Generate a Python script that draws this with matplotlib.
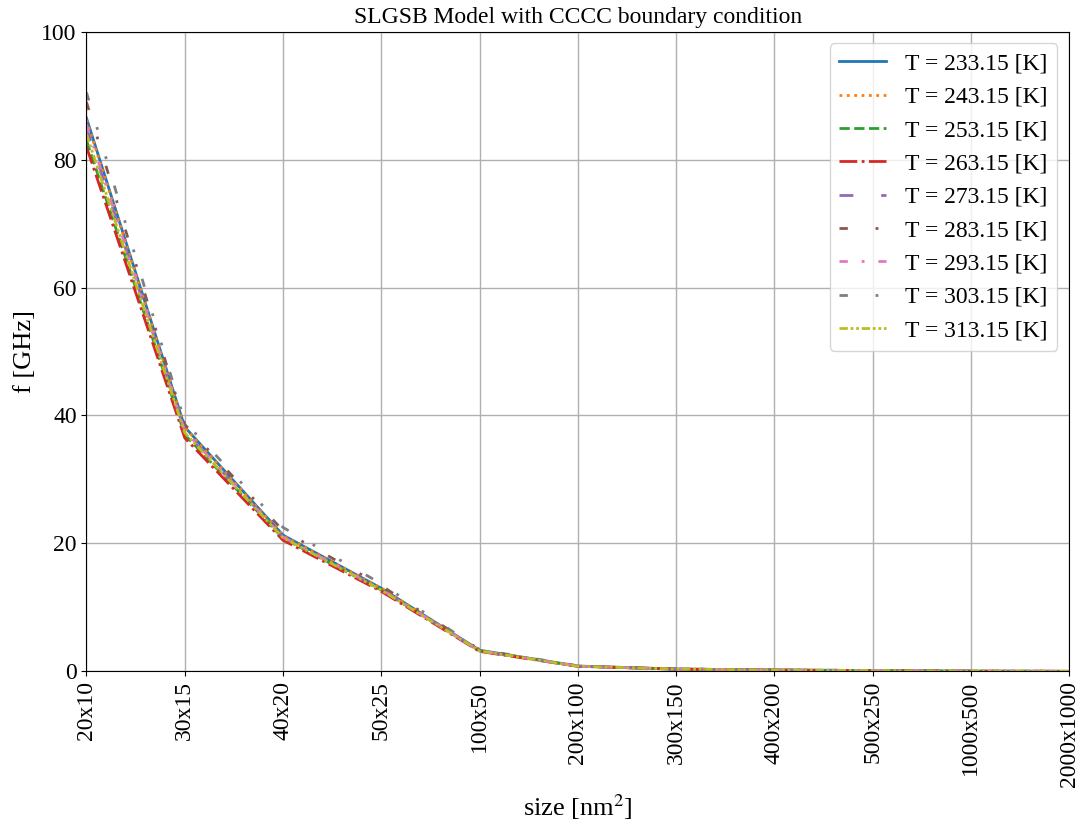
import matplotlib
matplotlib.use("Agg")
import matplotlib.pyplot as plt

sizes = ["20x10", "30x15", "40x20", "50x25", "100x50", "200x100",
         "300x150", "400x200", "500x250", "1000x500", "2000x1000"]

temps = [233.15, 243.15, 253.15, 263.15, 273.15, 283.15, 293.15, 303.15, 313.15]

f_233 = [86.5, 38.2, 21.3, 13.0, 3.30, 0.83, 0.37, 0.21, 0.13, 0.033, 0.008]
f_243 = [86.2, 38.1, 21.2, 13.0, 3.28, 0.82, 0.37, 0.21, 0.13, 0.033, 0.008]
f_253 = [83.0, 37.0, 20.8, 12.7, 3.20, 0.80, 0.36, 0.20, 0.13, 0.032, 0.008]
f_263 = [82.0, 36.5, 20.5, 12.5, 3.12, 0.78, 0.35, 0.20, 0.12, 0.031, 0.008]
f_273 = [85.0, 37.5, 21.0, 12.8, 3.22, 0.81, 0.36, 0.20, 0.13, 0.032, 0.008]
f_283 = [89.0, 38.6, 22.0, 13.4, 3.38, 0.85, 0.38, 0.21, 0.14, 0.034, 0.009]
f_293 = [85.5, 37.6, 21.0, 12.8, 3.22, 0.81, 0.36, 0.20, 0.13, 0.032, 0.008]
f_303 = [90.5, 39.0, 22.5, 13.7, 3.42, 0.86, 0.38, 0.22, 0.14, 0.034, 0.009]
f_313 = [84.0, 37.3, 20.9, 12.7, 3.20, 0.80, 0.36, 0.20, 0.13, 0.032, 0.008]

series = [f_233, f_243, f_253, f_263, f_273, f_283, f_293, f_303, f_313]
styles = ["-", ":", "--", "-.", (0, (5, 10)), (0, (3, 10, 1, 10)),
          (0, (3, 5, 1, 5)), (0, (3, 10, 1, 10, 1, 10)), (0, (3, 1, 1, 1, 1, 1))]

plt.rcParams["font.family"] = ["Liberation Serif", "DejaVu Serif"]
plt.rcParams["mathtext.fontset"] = "stix"

fig, ax = plt.subplots(figsize=(10.81, 8.34), dpi=100)
x = list(range(len(sizes)))
for t, y, ls in zip(temps, series, styles):
    ax.plot(x, y, linestyle=ls, linewidth=2, label="T = %.2f [K]" % t)

ax.set_xlim(0, len(sizes) - 1)
ax.set_ylim(0, 100)
ax.set_xticks(x)
ax.set_xticklabels(sizes, rotation=90, fontsize=17)
ax.tick_params(axis="y", labelsize=17)
ax.grid(True, color="#b0b0b0", linewidth=1)
ax.set_xlabel("size [nm$^2$]", fontsize=19)
ax.set_ylabel("f [GHz]", fontsize=19)
ax.set_title("SLGSB Model with CCCC boundary condition", fontsize=17)
ax.legend(loc="upper right", fontsize=17)

fig.subplots_adjust(left=0.08, right=0.989, top=0.962, bottom=0.195)
fig.savefig("out.png", dpi=100)
